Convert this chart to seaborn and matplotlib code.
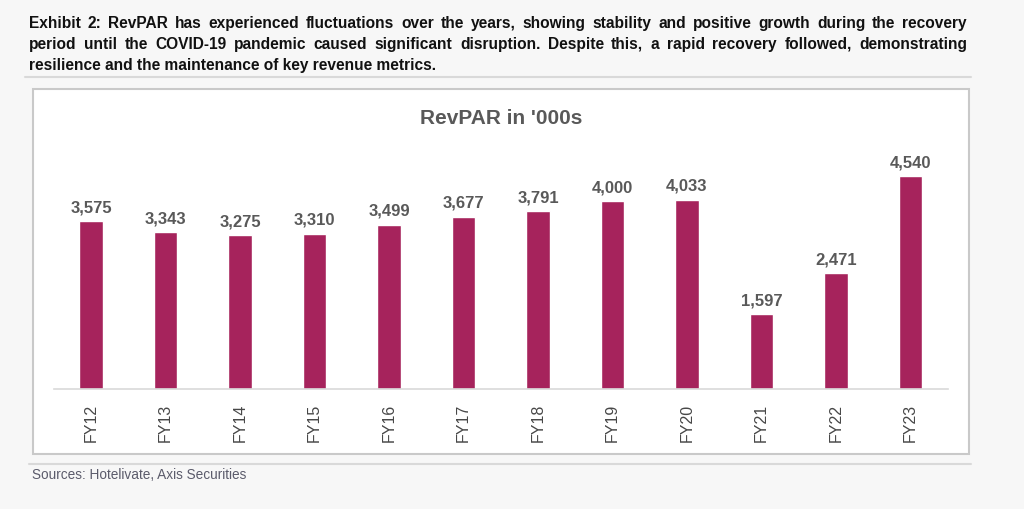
import matplotlib
matplotlib.use("Agg")
import matplotlib.pyplot as plt
import seaborn as sns
import pandas as pd
from matplotlib.patches import Rectangle
from matplotlib.lines import Line2D

years = ["FY12", "FY13", "FY14", "FY15", "FY16", "FY17", "FY18", "FY19", "FY20", "FY21", "FY22", "FY23"]
revpar = [3575, 3343, 3275, 3310, 3499, 3677, 3791, 4000, 4033, 1597, 2471, 4540]

header_lines = [
    "Exhibit 2: RevPAR has experienced fluctuations over the years, showing stability and positive growth during the recovery",
    "period until the COVID-19 pandemic caused significant disruption. Despite this, a rapid recovery followed, demonstrating",
    "resilience and the maintenance of key revenue metrics.",
]
chart_title = "RevPAR in '000s"
source_text = "Sources: Hotelivate, Axis Securities"

sns.set_theme(style="white")
plt.rcParams["font.family"] = ["Liberation Sans", "DejaVu Sans"]

W, H = 1024, 510
fig = plt.figure(figsize=(W / 100, H / 100), dpi=100)
fig.patch.set_facecolor("#f7f7f7")

def fx(px):
    return px / W

def fy(py):
    return 1 - py / H

# chart box
fig.patches.append(Rectangle((fx(33), fy(455)), fx(969) - fx(33), fy(90) - fy(455),
                             transform=fig.transFigure, facecolor="white",
                             edgecolor="#c9c9c9", linewidth=1.5, zorder=-5))
# rules
fig.lines.append(Line2D([fx(25), fx(971)], [fy(78), fy(78)], transform=fig.transFigure,
                        color="#d9d9d9", linewidth=1.5, zorder=-4))
fig.lines.append(Line2D([fx(29), fx(971)], [fy(465), fy(465)], transform=fig.transFigure,
                        color="#d9d9d9", linewidth=1.5, zorder=-4))

# header with justification
renderer = fig.canvas.get_renderer()
left_px, right_px = 29, 967
baselines = [27.6, 48.6, 69.6]
hdr_kw = dict(fontsize=11.2, fontweight="bold", color="#111111", va="baseline", ha="left")
for i, line in enumerate(header_lines):
    words = line.split(" ")
    y = fy(baselines[i])
    if i < len(header_lines) - 1:
        texts = [fig.text(0, y, w, **hdr_kw) for w in words]
        widths = [t.get_window_extent(renderer).width for t in texts]
        gap = (right_px - left_px - sum(widths)) / (len(words) - 1)
        x = left_px
        for t, wdt in zip(texts, widths):
            t.set_x(fx(x))
            x += wdt + gap
    else:
        fig.text(fx(left_px), y, line, **hdr_kw)

fig.text(fx(32), fy(479), source_text, fontsize=9.8, color="#5b5b6b", va="baseline", ha="left")

# axes
ax_left, ax_right = 53.75, 947.75
ax_bottom, ax_top = 390, 155.5
ax = fig.add_axes([fx(ax_left), fy(ax_bottom), fx(ax_right) - fx(ax_left), fy(ax_top) - fy(ax_bottom)])
ax.set_facecolor("none")

df = pd.DataFrame({"year": years, "revpar": revpar})
sns.barplot(data=df, x="year", y="revpar", color="#A6235C", saturation=1, width=0.31, ax=ax)
ax.set_xlim(-0.5, len(years) - 0.5)
ax.set_ylim(0, 5000)
ax.bar_label(ax.containers[0], labels=[f"{v:,.0f}" for v in revpar], padding=5,
             fontsize=12, fontweight="bold", color="#595959")

ax.set_xlabel("")
ax.set_ylabel("")
ax.set_yticks([])
ax.tick_params(axis="x", length=0, pad=10, labelsize=11.5, labelcolor="#474747")
for lbl in ax.get_xticklabels():
    lbl.set_rotation(90)
for s in ["top", "right", "left"]:
    ax.spines[s].set_visible(False)
ax.spines["bottom"].set_color("#d9d9d9")
ax.spines["bottom"].set_linewidth(1.2)

fig.text(fx(501), fy(119), chart_title, fontsize=15, fontweight="bold", color="#595959",
         ha="center", va="center")

fig.savefig("out.png", dpi=100, facecolor=fig.get_facecolor())
